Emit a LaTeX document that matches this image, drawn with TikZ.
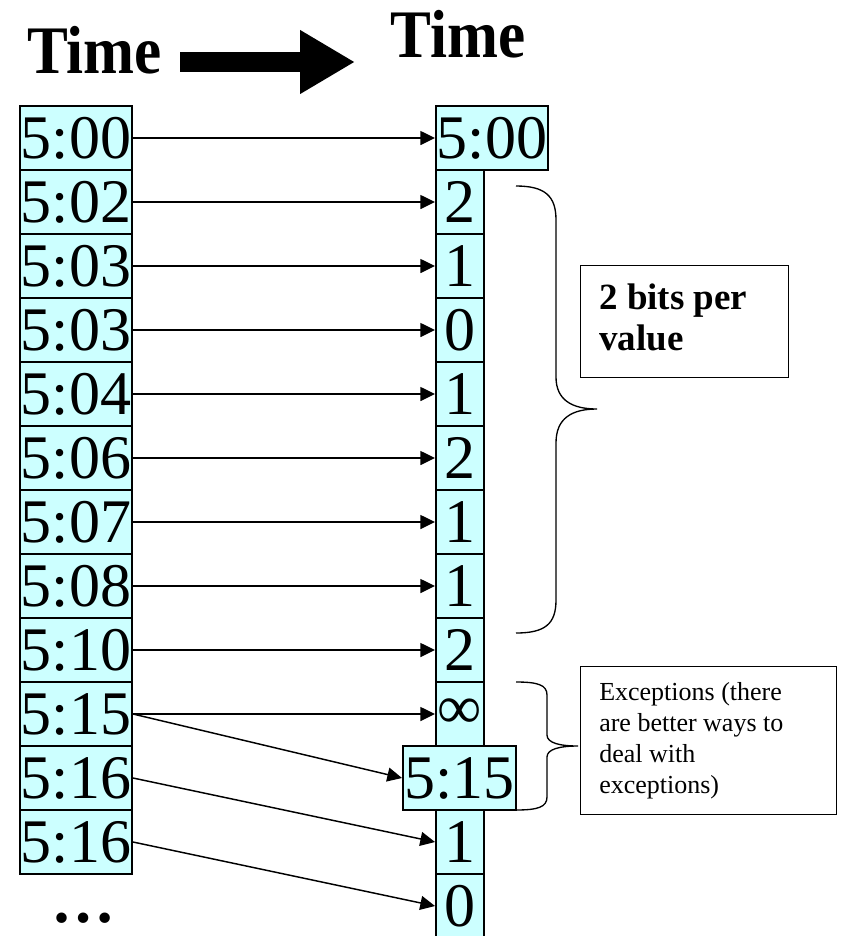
\documentclass[tikz,border=0pt]{standalone}
\usepackage{fontspec}
\usepackage{graphicx}
\setmainfont{Liberation Serif}
\usetikzlibrary{arrows.meta}
\definecolor{cellcyan}{RGB}{204,255,255}
\begin{document}
\begin{tikzpicture}[x=0.75pt,y=-0.75pt,
  cell/.style={draw, line width=1.5pt, fill=cellcyan, inner sep=0pt,
    minimum height=48pt, font=\fontsize{46.5}{50}\selectfont},
  wide/.style={cell, minimum width=84pt},
  narrow/.style={cell, minimum width=36pt},
  link/.style={line width=1.1pt, -{Triangle[length=11pt,width=10.5pt]}},
  brace/.style={line width=1pt},
  note/.style={draw, line width=1.1pt, fill=white, inner sep=0pt, anchor=north west},
  title/.style={font=\fontsize{51}{55}\bfseries\selectfont, inner sep=0pt},
  bigarrow/.style={line width=14.6pt, -{Triangle[length=41.25pt,width=45pt]}}
]
\useasboundingbox (0,0) rectangle (840,936);

% headings and the block arrow between them
\node[title] (tA) at (94.5,50) {\scalebox{0.9}[1]{Time}};
\node[title] (tB) at (458,34) {\scalebox{0.9}[1]{Time}};
\coordinate (arrS) at (180,62);
\coordinate (arrE) at (355,62);
\draw[bigarrow] (arrS) -- (arrE);

% raw timestamps
\foreach \t [count=\i from 0] in {5:00,5:02,5:03,5:03,5:04,5:06,5:07,5:08,5:10,5:15,5:16,5:16}
  \node[wide] (L\i) at (76,{138+64*\i}) {\t};
\node[font=\fontsize{48}{50}\bfseries\selectfont, inner sep=0pt] (more) at (83.5,918) {…};

% delta-encoded column
\node[wide] (R0) at (492,138) {5:00};
\foreach \t [count=\i from 1] in {2,1,0,1,2,1,1,2,∞}
  \node[narrow] (R\i) at (460,{138+64*\i}) {\t};
\node[narrow] (R11) at (460,842) {1};
\node[narrow] (R12) at (460,906) {0};
\node[cell, minimum width=84.75pt] (R10) at (459.5,778) {5:15};

% mapping arrows
\foreach \i in {0,...,9}
  \draw[link] (L\i.east) -- (R\i.west);
\draw[link] (L9.east) -- (R10.west);
\draw[link] (L10.east) -- (R11.west);
\draw[link] (L11.east) -- (R12.west);

% braces
\draw[brace] (516,186) .. controls (545,186) and (556,196) .. (556,220)
  -- (556,377) .. controls (556,400) and (572,409) .. (597,409)
  .. controls (572,409) and (556,418) .. (556,443)
  -- (556,600) .. controls (556,624) and (545,633) .. (516,633);
\draw[brace] (516,682) .. controls (538,682) and (547,685) .. (547,695)
  -- (547,735) .. controls (547,743) and (560,746) .. (578,746)
  .. controls (560,746) and (547,749) .. (547,757)
  -- (547,797) .. controls (547,807) and (538,810) .. (516,810);

% notes (the base anchor of a multi-line node sits on its last line)
\node[note, minimum width=156pt, minimum height=84pt] (bits) at (580,265) {};
\node[anchor=base west, inner sep=0pt, align=left,
  font=\fontsize{27.75}{30.75}\bfseries\selectfont] (bitsText) at (599,350)
  {2 bits per\\value};
\node[note, minimum width=192pt, minimum height=111pt] (exc) at (580,666) {};
\node[anchor=base west, inner sep=0pt, align=left,
  font=\fontsize{19.5}{23.25}\selectfont] (excText) at (599,793)
  {Exceptions (there\\are better ways to\\deal with\\exceptions)};
\end{tikzpicture}
\end{document}
